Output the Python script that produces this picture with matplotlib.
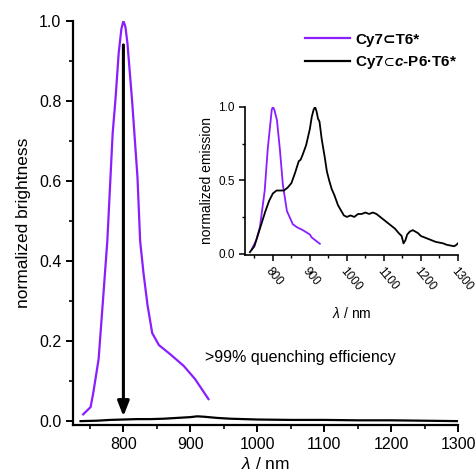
import matplotlib
matplotlib.use("Agg")
import matplotlib.pyplot as plt
from matplotlib.ticker import MultipleLocator

plt.rcParams['font.family'] = ['Liberation Sans', 'DejaVu Sans']
plt.rcParams['mathtext.fontset'] = 'custom'
plt.rcParams['mathtext.rm'] = 'Liberation Sans'
plt.rcParams['mathtext.it'] = 'Liberation Sans:italic'
plt.rcParams['mathtext.bf'] = 'Liberation Sans:bold'
plt.rcParams['mathtext.bfit'] = 'Liberation Sans:bold:italic'
plt.rcParams['mathtext.fallback'] = 'stixsans'

PURPLE = '#8a1eff'

# main panel: brightness
wl_free = [740, 751, 755, 763, 769, 776, 784, 788, 793, 797, 800, 803, 806, 813, 821, 825,
           830, 836, 843, 853, 870, 890, 907, 927]
br_free = [0.017, 0.035, 0.07, 0.155, 0.29, 0.45, 0.72, 0.80, 0.92, 0.98, 1.0, 0.985, 0.945,
           0.80, 0.61, 0.45, 0.37, 0.29, 0.22, 0.19, 0.167, 0.138, 0.105, 0.055]

wl_cplx = [736, 760, 780, 800, 820, 840, 860, 880, 900, 910, 920, 940, 960, 980, 1000, 1050,
           1100, 1150, 1200, 1250, 1300]
br_cplx = [0.0, 0.001, 0.003, 0.004, 0.005, 0.005, 0.006, 0.008, 0.010, 0.012, 0.011, 0.008,
           0.006, 0.005, 0.004, 0.003, 0.003, 0.002, 0.002, 0.001, 0.0]

# inset: normalized emission
wl_em_free = [743, 755, 765, 778, 786, 797, 800, 804, 811, 819, 827, 838, 854, 865, 881, 900,
              905, 927]
em_free = [0.03, 0.09, 0.18, 0.43, 0.71, 0.98, 1.0, 0.98, 0.91, 0.71, 0.47, 0.29, 0.20, 0.18,
           0.16, 0.13, 0.11, 0.067]

wl_em_cplx = [738, 750, 760, 770, 780, 790, 800, 810, 820, 830, 840, 850, 860, 870, 875, 880,
              890, 900, 905, 910, 914, 918, 922, 926, 932, 940, 946, 952, 959, 966, 976, 985,
              992, 1000, 1010, 1020, 1030, 1040, 1050, 1060, 1070, 1080, 1090, 1100, 1110,
              1120, 1130, 1140, 1148, 1153, 1158, 1163, 1170, 1178, 1185, 1192, 1200, 1210,
              1220, 1230, 1240, 1250, 1260, 1270, 1280, 1290, 1296, 1300]
em_cplx = [0.01, 0.05, 0.13, 0.21, 0.29, 0.36, 0.41, 0.43, 0.43, 0.43, 0.45, 0.48, 0.55, 0.63,
           0.64, 0.67, 0.74, 0.85, 0.93, 0.98, 1.0, 0.97, 0.92, 0.90, 0.78, 0.66, 0.56, 0.50,
           0.44, 0.40, 0.33, 0.29, 0.26, 0.25, 0.26, 0.25, 0.27, 0.27, 0.28, 0.27, 0.28, 0.27,
           0.25, 0.23, 0.21, 0.19, 0.17, 0.14, 0.12, 0.07, 0.09, 0.13, 0.15, 0.16, 0.15, 0.14,
           0.12, 0.11, 0.10, 0.09, 0.08, 0.075, 0.07, 0.06, 0.055, 0.05, 0.06, 0.07]

labels = ['Cy7⊂T6*', r'Cy7$\!\subset\!\mathbfit{c}$-P6·T6*']

fig = plt.figure(figsize=(4.75, 4.75), dpi=100)
ax = fig.add_axes([0.154, 0.105, 0.811, 0.851])

l1, = ax.plot(wl_free, br_free, color=PURPLE, lw=1.6)
l2, = ax.plot(wl_cplx, br_cplx, color='black', lw=1.6)
ax.annotate('', xy=(800, 0.012), xytext=(800, 0.94),
            arrowprops=dict(arrowstyle='-|>,head_length=0.9,head_width=0.35',
                            color='black', lw=2.2, shrinkA=0, shrinkB=0))
ax.text(922, 0.16, '>99% quenching efficiency', fontsize=11.5, va='center')

ax.set_xlim(725, 1300)
ax.set_ylim(-0.01, 1.0)
ax.xaxis.set_minor_locator(MultipleLocator(50))
ax.yaxis.set_major_locator(MultipleLocator(0.2))
ax.yaxis.set_minor_locator(MultipleLocator(0.1))
ax.set_xticks([800, 900, 1000, 1100, 1200, 1300])
ax.yaxis.set_major_formatter(matplotlib.ticker.FormatStrFormatter('%.1f'))
for s in ['top', 'right']:
    ax.spines[s].set_visible(False)
for s in ['left', 'bottom']:
    ax.spines[s].set_linewidth(1.6)
ax.tick_params(which='major', length=5, width=1.4, labelsize=11.5, direction='out')
ax.tick_params(which='minor', length=3, width=1.2, direction='out')
ax.set_xlabel(r'$\lambda$ / nm', fontsize=12.5, labelpad=3)
ax.set_ylabel('normalized brightness', fontsize=12.5, labelpad=6)

leg = ax.legend([l1, l2], labels, loc='upper left', bbox_to_anchor=(0.565, 1.005),
                frameon=False, prop={'weight': 'bold', 'size': 11}, handlelength=3.0,
                handletextpad=0.3, labelspacing=0.5)

# inset
axi = fig.add_axes([0.516, 0.463, 0.448, 0.312])
axi.plot(wl_em_free, em_free, color=PURPLE, lw=1.3)
axi.plot(wl_em_cplx, em_cplx, color='black', lw=1.3)
axi.set_xlim(725, 1300)
axi.set_ylim(-0.01, 1.0)
axi.set_xticks([800, 900, 1000, 1100, 1200, 1300])
axi.xaxis.set_minor_locator(MultipleLocator(50))
axi.set_yticks([0.0, 0.5, 1.0])
axi.yaxis.set_minor_locator(MultipleLocator(0.25))
axi.yaxis.set_major_formatter(matplotlib.ticker.FormatStrFormatter('%.1f'))
for s in ['top', 'right']:
    axi.spines[s].set_visible(False)
for s in ['left', 'bottom']:
    axi.spines[s].set_linewidth(1.2)
axi.tick_params(which='major', length=4, width=1.1, labelsize=8.5, direction='out')
axi.tick_params(which='minor', length=2.5, width=1.0, direction='out')
for t in axi.get_xticklabels():
    t.set_rotation(-50)
    t.set_ha('left')
    t.set_va('top')
    t.set_rotation_mode('anchor')
axi.set_xlabel(r'$\lambda$ / nm', fontsize=10, labelpad=9)
axi.set_ylabel('normalized emission', fontsize=10, labelpad=3)

fig.savefig('out.png', dpi=100)
